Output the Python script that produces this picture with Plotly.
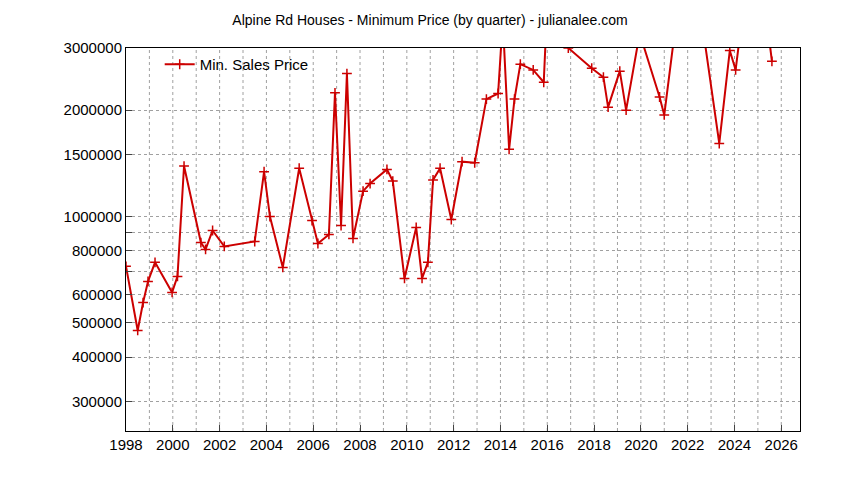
import plotly.graph_objects as go

# Minimum sale price by quarter (values above 3M are clipped off the top)
quarters = [1998.0, 1998.5, 1998.73, 1998.94, 1999.24, 1999.97, 2000.2, 2000.48,
            2001.2, 2001.4, 2001.7, 2002.2, 2003.5, 2003.9, 2004.15, 2004.7,
            2005.4, 2005.95, 2006.2, 2006.67, 2006.93, 2007.19, 2007.44, 2007.7,
            2008.13, 2008.43, 2009.15, 2009.4, 2009.9, 2010.4, 2010.65, 2010.9,
            2011.12, 2011.42, 2011.9, 2012.36, 2012.9, 2013.4, 2013.9, 2014.1,
            2014.37, 2014.6, 2014.85, 2015.4, 2015.85, 2016.0, 2016.9, 2017.9,
            2018.4, 2018.6, 2019.1, 2019.37, 2019.95, 2020.8, 2021.0, 2021.6,
            2022.5, 2023.35, 2023.8, 2024.05, 2024.4, 2025.3, 2025.6]
min_price = [723000, 476000, 571000, 655000, 742000, 610000, 677000, 1390000,
             844000, 807000, 913000, 823000, 850000, 1340000, 1000000, 718000,
             1370000, 974000, 839000, 890000, 2240000, 943000, 2540000, 867000,
             1180000, 1240000, 1360000, 1260000, 668000, 931000, 668000, 742000,
             1270000, 1370000, 981000, 1430000, 1420000, 2150000, 2230000, 3600000,
             1550000, 2150000, 2700000, 2600000, 2400000, 4000000, 3000000, 2630000,
             2480000, 2040000, 2580000, 2000000, 3300000, 2180000, 1940000, 4000000,
             4000000, 1610000, 2950000, 2600000, 4000000, 4000000, 2750000]

y_ticks = [300000, 400000, 500000, 600000, 700000, 800000, 900000,
           1000000, 1500000, 2000000, 3000000]
y_labels = ["300000", "400000", "500000", "600000", "", "800000", "",
            "1000000", "1500000", "2000000", "3000000"]

fig = go.Figure()
fig.add_trace(go.Scatter(
    x=quarters, y=min_price, mode="lines+markers", name="Min. Sales Price",
    line=dict(color="#cc0000", width=2),
    marker=dict(symbol="cross-thin", size=7, line=dict(color="#cc0000", width=1.5))
))

fig.update_layout(
    width=844, height=480,
    title=dict(text="Alpine Rd Houses - Minimum Price (by quarter) - julianalee.com",
               x=0.5, y=0.985, font=dict(size=14, color="black")),
    font=dict(family="Liberation Sans, Arial", size=14, color="black"),
    paper_bgcolor="white", plot_bgcolor="white",
    margin=dict(l=118, r=52, t=40, b=57),
    showlegend=True,
    legend=dict(x=0.05, y=1.0, xanchor="left", yanchor="top",
                bgcolor="rgba(0,0,0,0)", font=dict(size=15)),
)
fig.update_xaxes(range=[1998, 2026.8], tickvals=list(range(1998, 2027, 2)),
                 showgrid=False, ticks="inside", ticklen=6, showline=True,
                 linecolor="black", mirror=True, zeroline=False,
                 tickfont=dict(size=15))
# yearly dashed grid
for yr in range(1999, 2027):
    fig.add_vline(x=yr, line=dict(color="#a0a0a0", width=1, dash="dot"), layer="below")
fig.update_yaxes(type="log", range=[5.393, 6.4771], tickvals=y_ticks, ticktext=y_labels,
                 gridcolor="#a0a0a0", griddash="dot", ticks="inside", ticklen=6,
                 showline=True, linecolor="black", mirror=True, zeroline=False,
                 tickfont=dict(size=15))

fig.write_html("out.html")
